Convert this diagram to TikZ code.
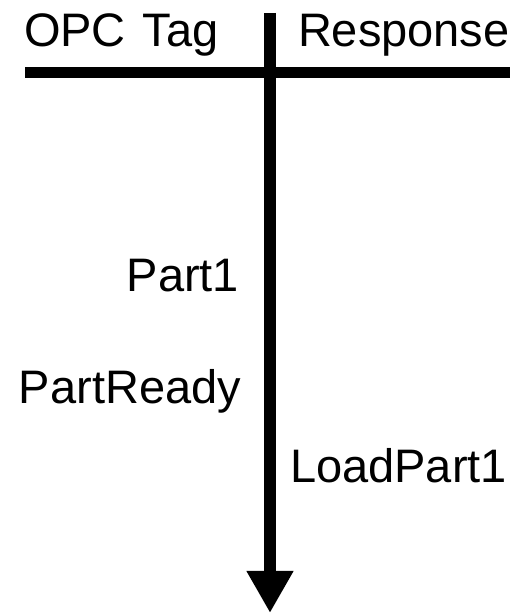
\documentclass[tikz,border=0pt]{standalone}
\usepackage{fontspec}
\setmainfont{Liberation Sans}
\usetikzlibrary{arrows.meta}
\tikzset{
  lbl/.style={inner sep=0pt, outer sep=0pt, font=\fontsize{47bp}{52bp}\selectfont},
  axis/.style={line width=12bp, line cap=butt},
}
\begin{document}
\begin{tikzpicture}[x=1bp,y=1bp]
\useasboundingbox (0,0) rectangle (516,614);
\coordinate (top) at (270,601);
\coordinate (tip) at (270,1);
\coordinate (hl) at (25,541.5);
\coordinate (hr) at (510,541.5);
\draw[axis, -{Triangle[width=44bp,length=42bp]}] (top) -- (tip);
\draw[line width=11.5bp] (hl) -- (hr);
\node[lbl, anchor=base west] (opc) at (24,567) {OPC\hspace{4bp} Tag};
\node[lbl, anchor=base west] (resp) at (298,567) {Response};
\node[lbl, anchor=base east] (p1) at (239,322) {Part1};
\node[lbl, anchor=base east] (pr) at (241,210) {PartReady};
\node[lbl, anchor=base west] (lp) at (290,131) {LoadPart1};
\end{tikzpicture}
\end{document}
